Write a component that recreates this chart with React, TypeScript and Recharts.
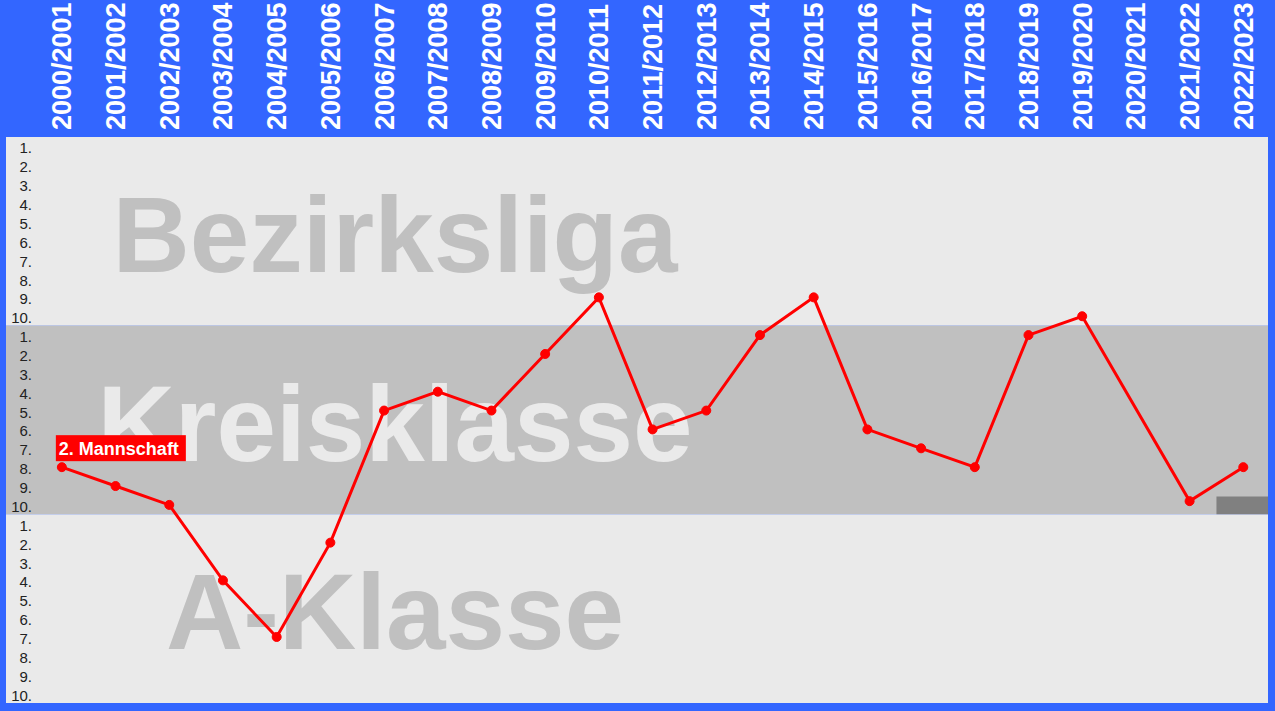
import { LineChart, Line, XAxis, YAxis, ReferenceArea, LabelList } from "recharts";

// seasons shown in the header
const SEASONS = [
  "2000/2001", "2001/2002", "2002/2003", "2003/2004", "2004/2005", "2005/2006",
  "2006/2007", "2007/2008", "2008/2009", "2009/2010", "2010/2011", "2011/2012",
  "2012/2013", "2013/2014", "2014/2015", "2015/2016", "2016/2017", "2017/2018",
  "2018/2019", "2019/2020", "2020/2021", "2021/2022", "2022/2023",
];

// overall row on the 30-row ladder (1-10 Bezirksliga, 11-20 Kreisklasse, 21-30 A-Klasse)
const RANKS = [
  18, 19, 20, 24, 27, 22, 15, 14, 15, 12, 9, 16,
  15, 11, 9, 16, 17, 18, 11, 10, null, 19.8, 18,
];

const LEAGUES = ["Bezirksliga", "Kreisklasse", "A-Klasse"];
const TEAMS_PER_LEAGUE = 10;
const SERIES_NAME = "2. Mannschaft";

// small dark marker in the last season (from row to row)
const MARKER_SEASON = "2022/2023";
const MARKER_ROWS = [19.55, 20.5];

const BLUE = "#3366ff";
const BAND_FILL = ["#eaeaea", "#c0c0c0", "#eaeaea"];
const BAND_TEXT = ["#c0c0c0", "#eaeaea", "#c0c0c0"];
const FONT = "'Liberation Sans', Arial, sans-serif";

const data = SEASONS.map((season, i) => ({
  idx: i,
  season,
  rank: RANKS[i],
  tag: i === 0 ? SERIES_NAME : null,
}));

const rowTicks = Array.from({ length: LEAGUES.length * TEAMS_PER_LEAGUE }, (_, i) => i + 1);
const markerIdx = SEASONS.indexOf(MARKER_SEASON);

function SeasonTick({ x, y, payload }: any) {
  return (
    <text
      x={x}
      y={y}
      dy="0.35em"
      transform={`rotate(-90, ${x}, ${y})`}
      textAnchor="start"
      fill="#ffffff"
      fontWeight="bold"
      fontSize={27}
      fontFamily={FONT}
    >
      {SEASONS[payload.value]}
    </text>
  );
}

function RowTick({ x, y, payload }: any) {
  const place = ((payload.value - 1) % TEAMS_PER_LEAGUE) + 1;
  return (
    <text x={x} y={y} dy={7} textAnchor="end" fill="#222" fontSize={15} fontFamily={FONT}>
      {place}.
    </text>
  );
}

function leagueLabel(name: string, color: string) {
  return ({ viewBox }: any) => (
    <text
      x={viewBox.x + 389}
      y={viewBox.y + 135}
      textAnchor="middle"
      fill={color}
      fontWeight="bold"
      fontSize={107}
      fontFamily={FONT}
    >
      {name}
    </text>
  );
}

function SeriesTag(props: any) {
  const { value } = props;
  if (!value) return null;
  const x = props.x ?? props.viewBox?.x;
  const y = props.y ?? props.viewBox?.y;
  return (
    <g>
      <rect x={x - 6} y={y - 32} width={130} height={26} fill="#ff0000" />
      <text x={x - 3} y={y - 12.5} fill="#fff" fontWeight="bold" fontSize={18} fontFamily={FONT}>
        {value}
      </text>
    </g>
  );
}

export default function App() {
  return (
    <div style={{ position: "absolute", left: 0, top: 0, width: 1275, height: 711, background: BLUE }}>
      <LineChart width={1275} height={711} data={data} margin={{ top: 6, right: 7, bottom: 8, left: 6 }}>
        <XAxis
          dataKey="idx"
          type="number"
          orientation="top"
          domain={[-1.04, 22.46]}
          allowDataOverflow
          ticks={data.map((d) => d.idx)}
          interval={0}
          height={131}
          axisLine={false}
          tickLine={false}
          tickSize={0}
          tickMargin={7}
          tick={<SeasonTick />}
        />
        <YAxis
          type="number"
          reversed
          domain={[0.5, LEAGUES.length * TEAMS_PER_LEAGUE + 0.5]}
          ticks={rowTicks}
          interval={0}
          mirror
          width={30}
          axisLine={false}
          tickLine={false}
          tickSize={0}
          tickMargin={26}
          tick={<RowTick />}
        />
        {LEAGUES.map((name, i) => (
          <ReferenceArea
            key={name}
            y1={i * TEAMS_PER_LEAGUE + 0.5}
            y2={(i + 1) * TEAMS_PER_LEAGUE + 0.5}
            fill={BAND_FILL[i]}
            fillOpacity={1}
            stroke="none"
            label={leagueLabel(name, BAND_TEXT[i])}
          />
        ))}
        <ReferenceArea
          x1={markerIdx - 0.5}
          y1={MARKER_ROWS[0]}
          y2={MARKER_ROWS[1]}
          fill="#808080"
          fillOpacity={1}
          stroke="none"
        />
        <Line
          dataKey="rank"
          type="linear"
          stroke="#ff0000"
          strokeWidth={3}
          connectNulls
          dot={{ r: 4.5, fill: "#ff0000", stroke: "#ff0000", strokeWidth: 1 }}
          activeDot={false}
          isAnimationActive={false}
        >
          <LabelList dataKey="tag" content={<SeriesTag />} />
        </Line>
      </LineChart>
    </div>
  );
}
